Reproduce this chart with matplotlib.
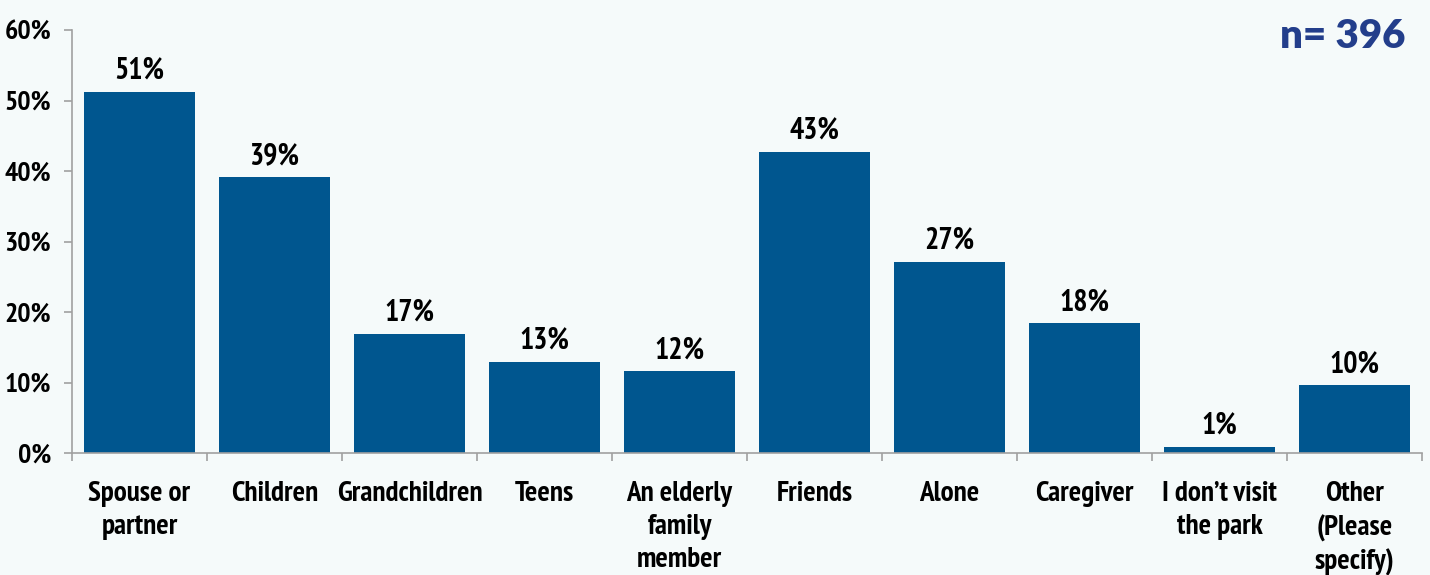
import matplotlib
matplotlib.use("Agg")
import matplotlib.pyplot as plt
import numpy as np

categories = ["Spouse or\npartner", "Children", "Grandchildren", "Teens",
              "An elderly\nfamily\nmember", "Friends", "Alone", "Caregiver",
              "I don\u2019t visit\nthe park", "Other\n(Please\nspecify)"]
values = [51.2, 39.1, 16.9, 12.9, 11.6, 42.7, 27.1, 18.4, 0.85, 9.6]
labels = ["51%", "39%", "17%", "13%", "12%", "43%", "27%", "18%", "1%", "10%"]

BG = "#f5fafa"
BAR = "#00568f"
FONT = ["PT Sans Narrow", "Roboto Condensed", "Asap Condensed", "DejaVu Sans"]
NFONT = ["Lato", "DejaVu Sans"]

fig = plt.figure(figsize=(14.3, 5.75), dpi=100, facecolor=BG)
ax = fig.add_axes([72 / 1430, 1 - 453 / 575, 1350 / 1430, 423 / 575])
ax.set_facecolor(BG)

x = np.arange(len(categories))
ax.bar(x, values, width=0.815, color=BAR, zorder=2)

for xi, v, lab in zip(x, values, labels):
    ax.text(xi, v + 1.0, lab, ha="center", va="bottom", fontsize=21.5,
            fontweight="bold", family=FONT)

ax.set_xlim(-0.5, len(categories) - 0.5)
ax.set_ylim(0, 60)
ax.set_yticks(np.arange(0, 61, 10))
ax.set_yticklabels([f"{t}%" for t in range(0, 61, 10)], fontsize=20,
                   fontweight="bold", family=FONT)

# category labels centred under bars, ticks on the boundaries
ax.set_xticks(x)
ax.set_xticklabels(categories, fontsize=21, fontweight="bold", family=FONT,
                   linespacing=1.36, va="top")
ax.tick_params(axis="x", length=0, pad=20)
ax.set_xticks(np.arange(-0.5, len(categories), 1), minor=True)
ax.tick_params(axis="x", which="minor", length=6, color="#a0a0a0", width=1.2)
ax.tick_params(axis="y", length=6, color="#a0a0a0", width=1.2, pad=9)

for side in ["top", "right"]:
    ax.spines[side].set_visible(False)
for side in ["left", "bottom"]:
    ax.spines[side].set_color("#a0a0a0")
    ax.spines[side].set_linewidth(1.2)

fig.text(1405 / 1430, 1 - 37 / 575, "n= 396", ha="right", va="center",
         fontsize=29, fontweight="heavy", color="#233e8b", family=NFONT)

fig.savefig("out.png", dpi=100, facecolor=BG)
